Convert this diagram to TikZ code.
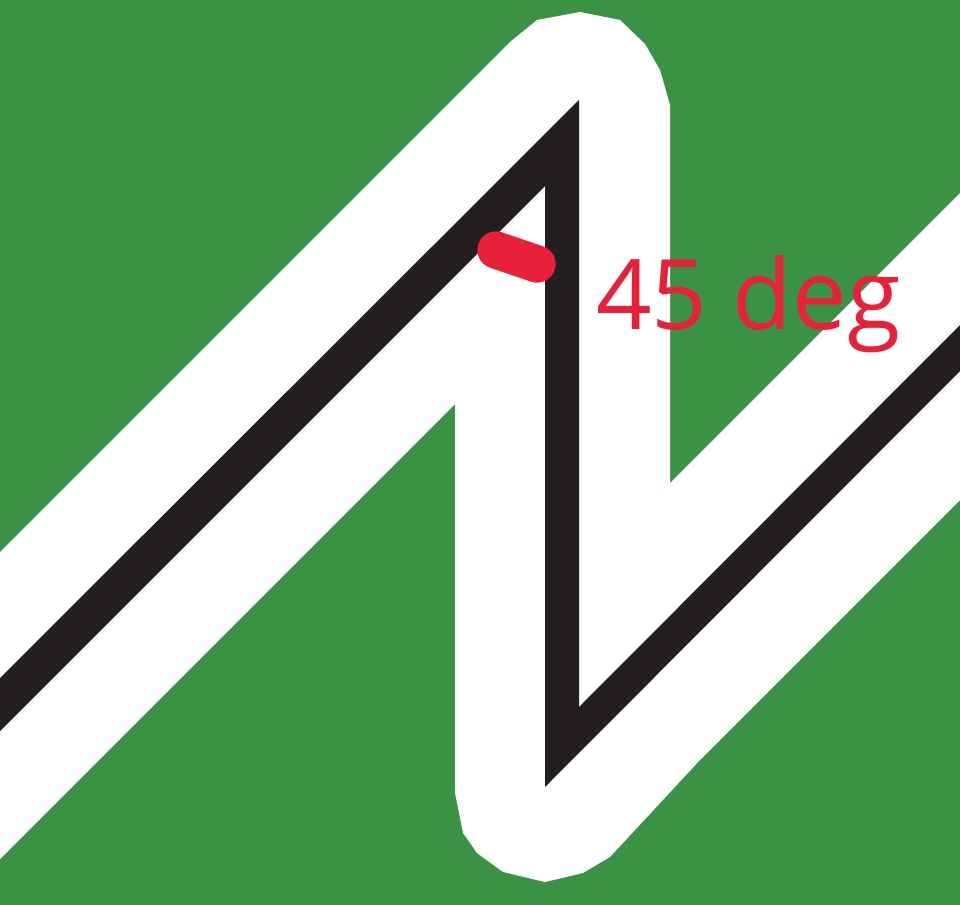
\documentclass[tikz,border=0pt]{standalone}
\usepackage{fontspec}
\setmainfont{Open Sans}
\definecolor{bggreen}{HTML}{3A9345}
\definecolor{bandblack}{HTML}{231F20}
\definecolor{markred}{HTML}{E8203A}
\begin{document}
\begin{tikzpicture}[x=0.75pt,y=-0.75pt]
\tikzset{
  bandwhite/.style={fill=white,draw=none},
  bandline/.style={fill=bandblack,draw=none},
  redmark/.style={draw=markred,line width=28pt,line cap=round},
  labeltext/.style={text=markred,font=\fontsize{73}{80}\selectfont,inner sep=0pt,anchor=base west}
}
\fill[bggreen] (0,0) rectangle (960,905);
\useasboundingbox (0,0) rectangle (960,905);
% white band
\path[bandwhite] (0,552) -- (510,42) -- (537,20) -- (580,12) -- (620,20) -- (645,44) -- (660,70) -- (670,105)
  -- (670,483) -- (960,193) -- (960,500) -- (700,760) -- (610,857) -- (583,873) -- (545,882)
  -- (503,872) -- (477,853) -- (463,833) -- (455,793) -- (455,404) -- (0,859) -- cycle;
% black line
\path[bandline] (0,678) -- (579,100) -- (579,707) -- (960,325) -- (960,371) -- (545,787)
  -- (545,186) -- (0,731) -- cycle;
% red mark
\coordinate (ra) at (496,250);
\coordinate (rb) at (537,264);
\draw[redmark] (ra) -- (rb);
% label
\node[labeltext] (lbl) at (596,330) {45 deg};
\end{tikzpicture}
\end{document}
